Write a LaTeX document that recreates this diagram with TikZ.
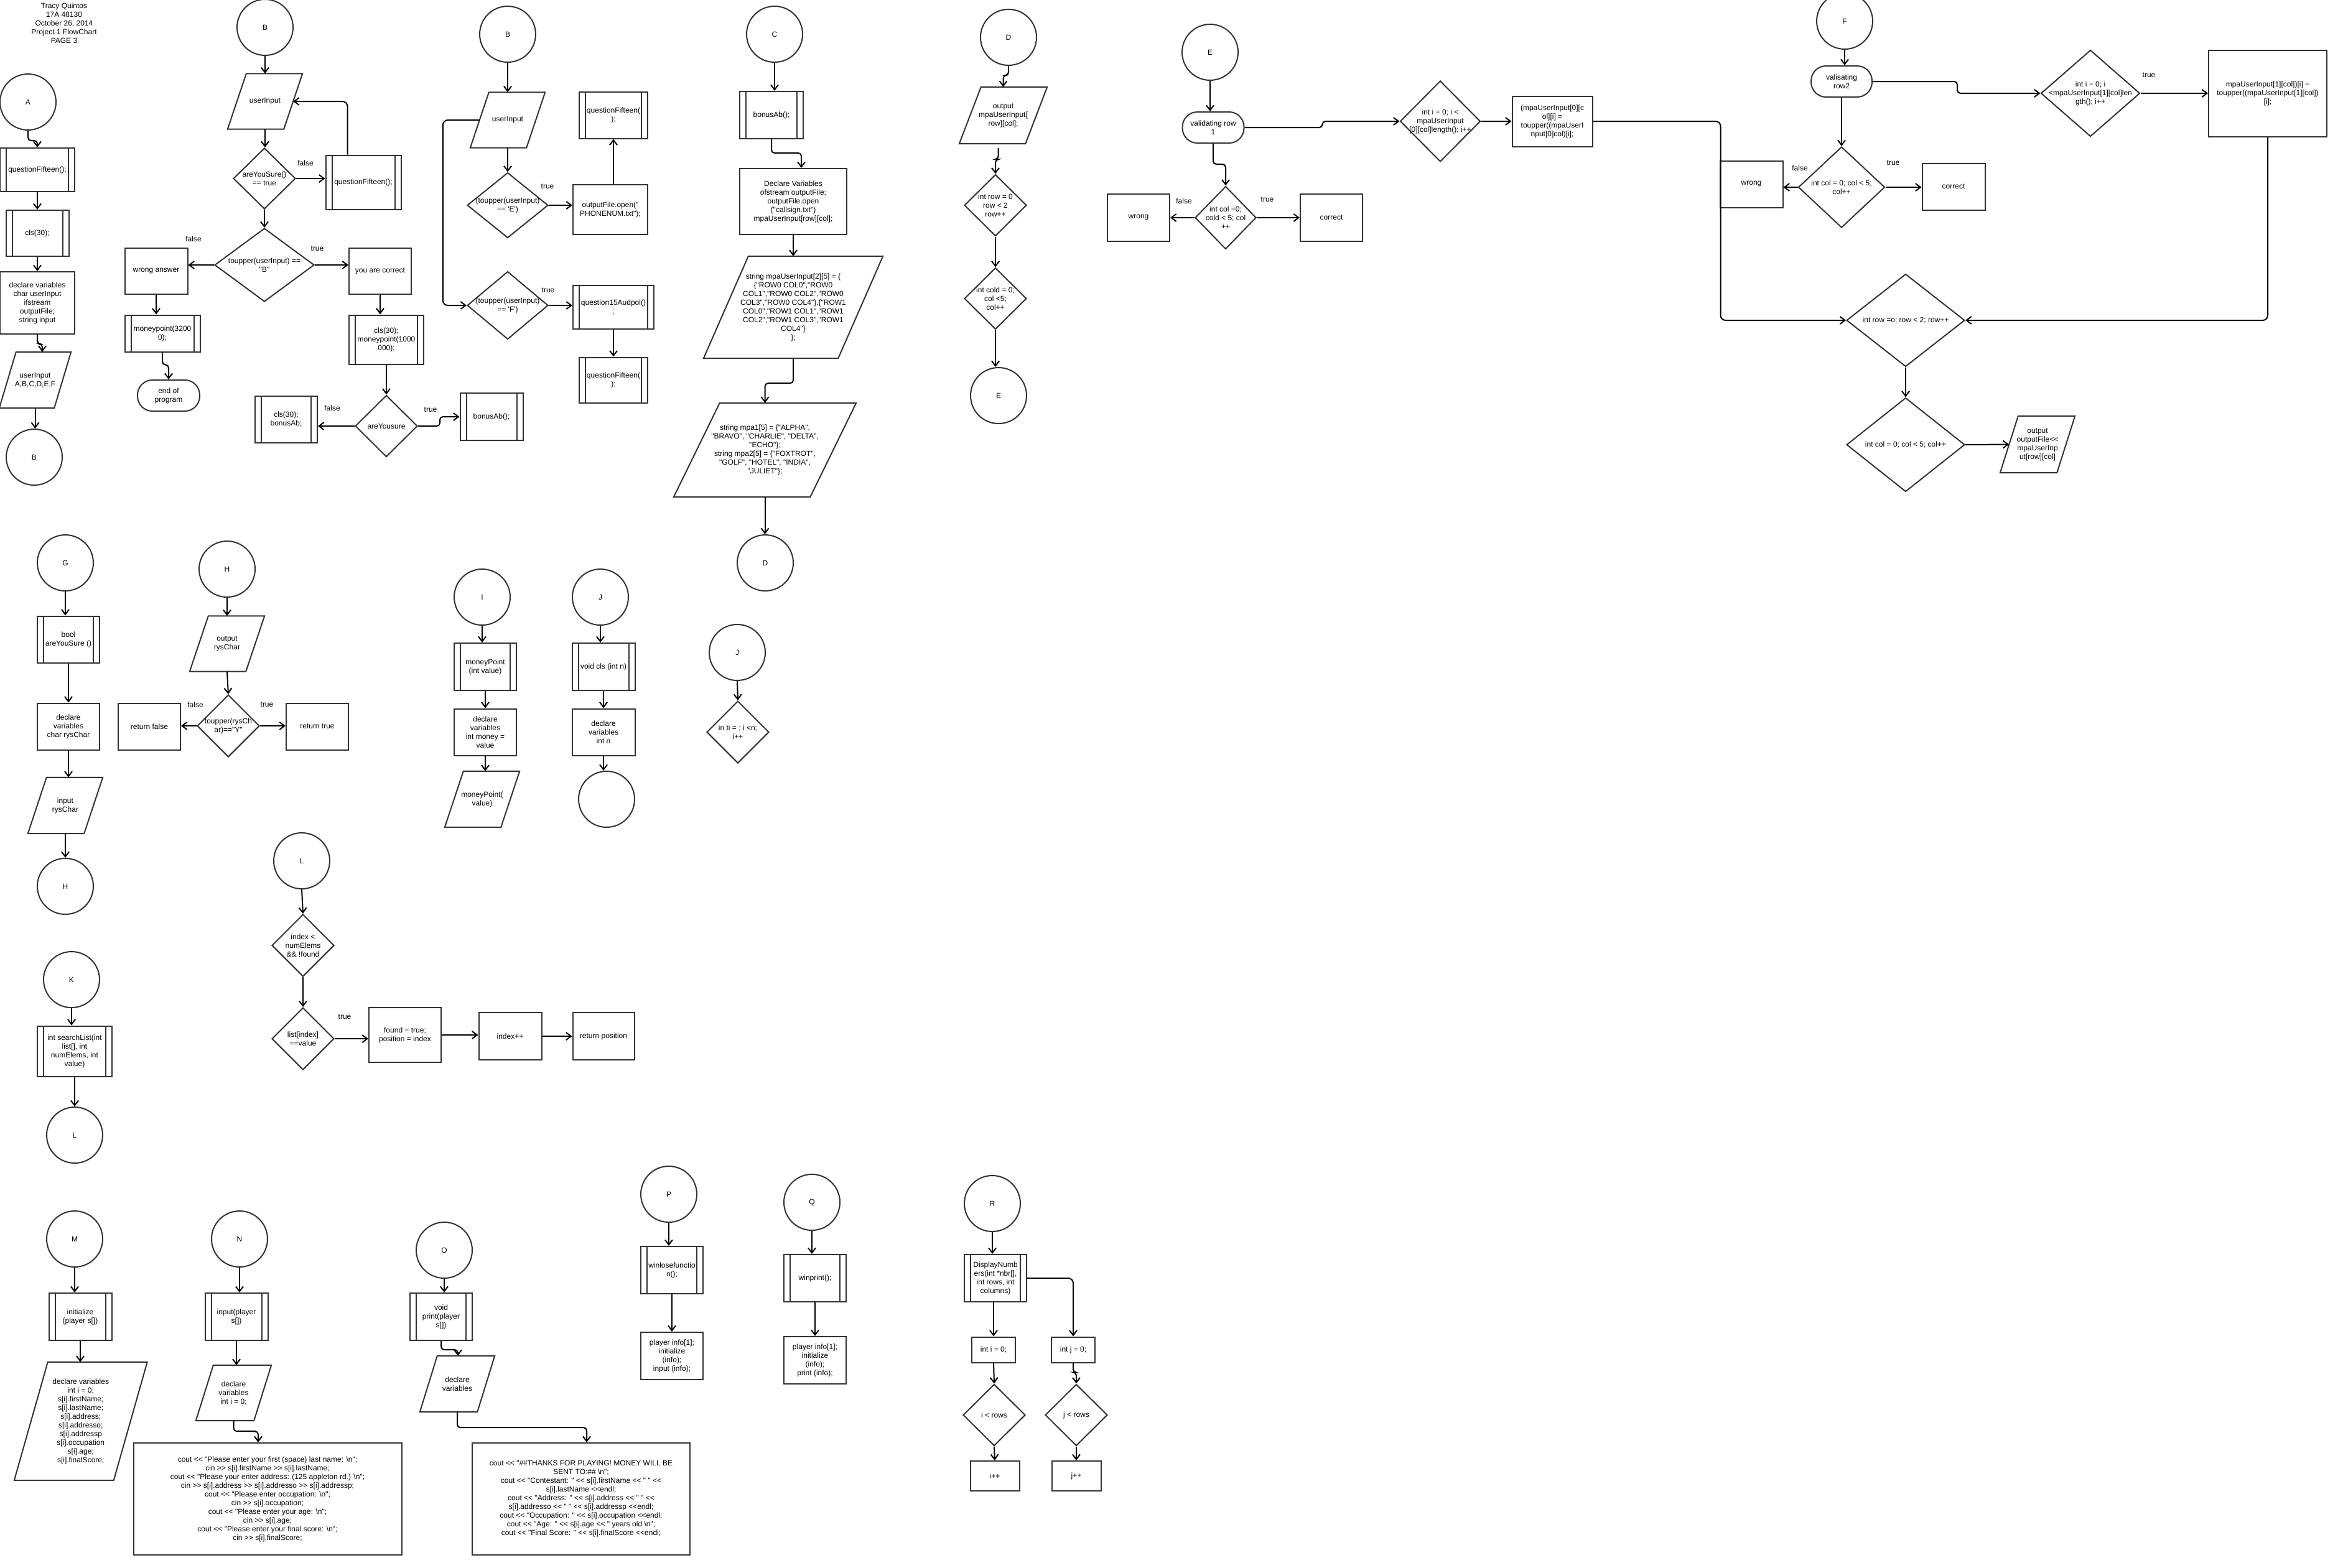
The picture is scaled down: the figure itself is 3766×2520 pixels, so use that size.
\documentclass[tikz,border=0pt]{standalone}
\usepackage{fontspec}
\newfontfamily\lib{Liberation Sans}
\usetikzlibrary{shapes.geometric,arrows.meta,calc}
\definecolor{lc}{HTML}{333333}
\newcommand\ft{\lib\fontsize{12}{14}\selectfont}
\tikzset{
  shp/.style={draw=lc, line width=2pt},
  txt/.style={font=\ft, align=center, inner sep=0pt, text=black},
  box/.style={shp, txt, rectangle},
  pp/.style={box, path picture={\draw[lc, line width=2pt]
     ([xshift=10pt]path picture bounding box.north west) -- ([xshift=10pt]path picture bounding box.south west)
     ([xshift=-10pt]path picture bounding box.north east) -- ([xshift=-10pt]path picture bounding box.south east);}},
  conn/.style={shp, txt, circle, minimum size=90pt},
  term/.style={shp, txt, rectangle, rounded corners=24pt},
  dia/.style={shp, diamond, inner sep=0pt},
  arr/.style={draw=black, line width=2pt, -{Straight Barb[length=8pt,width=12pt]}},
  jog/.style={arr, rounded corners=5pt},
  wh/.style 2 args={minimum width=#1pt, minimum height=#2pt},
}
% name, x, y, w, h, text
\newcommand\Dia[6]{\node[dia, wh={#4}{#5}] (#1) at (#2,#3) {};
  \node[txt] (#1t) at (#1.center) {#6};}
% name, x, y, w, h, half slant, text
\newcommand\Para[7]{\node[txt, wh={#4}{#5}] (#1) at (#2,#3) {#7};
  \draw[shp] ([xshift=#6pt]#1.north west) -- ([xshift=#6pt]#1.north east) -- ([xshift=-#6pt]#1.south east) -- ([xshift=-#6pt]#1.south west) -- cycle;}

\begin{document}
\begin{tikzpicture}[x=1pt,y=-1pt]
\useasboundingbox (0,0) rectangle (3766,2520);
\fill[white] (0,0) rectangle (3766,2520);

\node[txt] (title) at (103,37) {Tracy Quintos\\17A 48130\\October 26, 2014\\Project 1 FlowChart\\PAGE 3};

% ---------- A ----------
\node[conn] (cA) at (45,164) {A};
\node[pp, wh={120}{70}] (qf1) at (60,273) {questionFifteen();};
\node[pp, wh={101}{74}] (cls1) at (60,375) {cls(30);};
\node[box, wh={120}{100}] (dv1) at (60,487) {declare variables\\char userInput\\ifstream\\outputFile;\\string input};
\Para{ui1}{56.5}{611}{88}{90}{13.5}{userInput\\A,B,C,D,E,F}
\node[conn] (cB1) at (55,735) {B};
\draw[jog] (cA.south) -- ++(0,16) -| (qf1.north);
\draw[arr] (qf1.south) -- (qf1.south |- cls1.north);
\draw[arr] (cls1.south) -- (cls1.south |- dv1.north);
\draw[jog] (dv1.south) -- ++(0,15) -| ([xshift=11.5pt]ui1.north);
\draw[arr] (ui1.south) -- (ui1.south |- cB1.north);

% ---------- B (first) ----------
\node[conn] (cB2) at (426,44) {B};
\Para{ui2}{426}{163}{90}{89}{15}{userInput}
\Dia{dAys}{425}{287}{100}{98}{areYouSure()\\== true}
\node[txt] (lf1) at (491,262) {false};
\node[pp, wh={121}{87}] (qf2) at (584,293) {questionFifteen();};
\Dia{dTu}{425}{426}{160}{118}{toupper(userInput) ==\\"B"}
\node[txt] (lf2) at (311,384) {false};
\node[txt] (lt2) at (510,400) {true};
\node[box, wh={101}{74}] (wa) at (251,436) {wrong answer};
\node[box, wh={100}{74}] (yac) at (611,436) {you are correct};
\node[pp, wh={121}{59}] (mp1) at (261,536) {moneypoint(3200\\0);};
\node[term, wh={100}{50}] (eop) at (271,636) {end of\\program};
\node[pp, wh={120}{79}] (clsm) at (621,546) {cls(30);\\moneypoint(1000\\000);};
\Dia{dAys2}{621}{685}{100}{99}{areYousure}
\node[pp, wh={100}{75}] (clsb) at (460,674) {cls(30);\\bonusAb;};
\node[txt] (lf3) at (534,656) {false};
\node[txt] (lt3) at (692,659) {true};
\node[pp, wh={101}{76}] (bab) at (790,670) {bonusAb();};
\draw[arr] (cB2.south) -- (cB2.south |- ui2.north);
\draw[arr] (ui2.south) -- (ui2.south |- dAys.north);
\draw[arr] (dAys.east) -- (dAys.east -| qf2.west);
\draw[arr, rounded corners=8pt] ([xshift=36pt]qf2.north west) |- (ui2.east);
\draw[arr] (dAys.south) -- (dTu.north);
\draw[arr] (dTu.west) -- (dTu.west -| wa.east);
\draw[arr] (dTu.east) -- (dTu.east -| yac.west);
\draw[arr] (wa.south) -- (wa.south |- mp1.north);
\draw[jog] (mp1.south) -- ++(0,20) -| (eop.north);
\draw[arr] (yac.south) -- (yac.south |- clsm.north);
\draw[arr] (clsm.south) -- (clsm.south |- dAys2.north);
\draw[arr] (dAys2.west) -- (dAys2.west -| clsb.east);
\draw[jog] (dAys2.east) -- ++(35,0) |- (bab.west);

% ---------- B (second) ----------
\node[conn] (cB3) at (816,55) {B};
\Para{ui3}{816}{193}{90}{89}{15}{userInput}
\Dia{dE}{816}{330}{130}{105}{(toupper(userInput)\\== \textquotesingle E\textquotesingle)}
\node[txt] (lt4) at (880,300) {true};
\node[box, wh={120}{80}] (ofo) at (981,337) {outputFile.open("\\PHONENUM.txt");};
\node[pp, wh={110}{75}] (qf3) at (986,185) {questionFifteen(\\);};
\Dia{dF}{816}{491}{130}{109}{(toupper(userInput)\\== \textquotesingle F\textquotesingle)}
\node[txt] (lt5) at (881,467) {true};
\node[pp, wh={130}{70}] (q15) at (986,494) {question15Audpol()\\;};
\node[pp, wh={110}{73}] (qf4) at (986,611) {questionFifteen(\\);};
\draw[arr] (cB3.south) -- (ui3.north);
\draw[arr] (ui3.south) -- (dE.north);
\draw[arr] (dE.east) -- (dE.east -| ofo.west);
\draw[arr] (ofo.north -| qf3.south) -- (qf3.south);
\draw[arr] (dF.east) -- (dF.east -| q15.west);
\draw[arr] (q15.south) -- (q15.south |- qf4.north);
\draw[arr, rounded corners=8pt] (ui3.west) -- ++(-59,0) |- (dF.west);

% ---------- C ----------
\node[conn] (cC) at (1245,55) {C};
\node[pp, wh={102}{76}] (bab2) at (1240,185) {bonusAb();};
\node[box, wh={172}{106}] (dvC) at (1275,324) {Declare Variables\\ofstream outputFile;\\outputFile.open\\("callsign.txt")\\mpaUserInput[row][col];};
\Para{mpaU}{1275}{494}{216}{164}{36}{string mpaUserInput[2][5] = \{\\\{"ROW0 COL0","ROW0\\COL1","ROW0 COL2","ROW0\\COL3","ROW0 COL4"\},\{"ROW1\\COL0","ROW1 COL1","ROW1\\COL2","ROW1 COL3","ROW1\\COL4"\}\\\};}
\Para{mpaA}{1229.5}{723.5}{219}{151}{37}{string mpa1[5] = \{"ALPHA",\\"BRAVO", "CHARLIE", "DELTA",\\"ECHO"\};\\string mpa2[5] = \{"FOXTROT",\\"GOLF", "HOTEL", "INDIA",\\"JULIET"\};}
\node[conn] (cD1) at (1230,905) {D};
\draw[arr] (cC.south) -- (cC.south |- bab2.north);
\draw[jog] (bab2.south) -- ++(0,22) -| ([xshift=13pt]dvC.north);
\draw[arr] (dvC.south) -- (mpaU.north);
\draw[jog] (mpaU.south) -- ++(0,40) -| (mpaA.north);
\draw[arr] (mpaA.south) -- (mpaA.south |- cD1.north);

% ---------- D ----------
\node[conn] (cD2) at (1621,60) {D};
\Para{oMp}{1612.5}{185.5}{106}{91}{17.5}{output\\mpaUserInput[\\row][col];}
\Dia{dR}{1600}{330}{100}{99}{int row = 0\\row < 2\\row++}
\Dia{dC}{1600}{480}{100}{99}{int cold = 0;\\col <5;\\col++}
\node[conn] (cE1) at (1605,636) {E};
\draw[jog] (cD2.south) -- ++(0,15) -| (oMp.north);
\draw[jog] ([xshift=-8pt,yshift=-7pt]oMp.south) -- ++(0,18) -| (dR.north);
\draw[arr] (dR.south) -- (dC.north);
\draw[arr] (dC.south) -- (dC.south |- cE1.north);

% ---------- E ----------
\node[conn] (cE2) at (1945,84) {E};
\node[term, wh={99}{50}] (vr1) at (1950,205) {validating row\\1};
\Dia{dI1}{2315}{195}{129}{130}{int i = 0; i <\\mpaUserInput\\{}[0][col]length(); i++}
\node[box, wh={129}{81}] (bx1) at (2495,195) {(mpaUserInput[0][c\\ol][i] =\\toupper((mpaUserI\\nput[0]col)[i];};
\Dia{dC1}{1970}{350}{98}{101}{int col =0;\\cold < 5; col\\++}
\node[txt] (lf6) at (1903,323) {false};
\node[txt] (lt6) at (2037,321) {true};
\node[box, wh={100}{76}] (wr1) at (1830,350) {wrong};
\node[box, wh={100}{76}] (co1) at (2140,350) {correct};
\draw[arr] (cE2.south) -- (cE2.south |- vr1.north);
\draw[jog] (vr1.east) -- ++(125,0) |- (dI1.west);
\draw[arr] (dI1.east) -- (bx1.west);
\draw[jog] (vr1.south) -- ++(0,33) -| (dC1.north);
\draw[arr] (dC1.west) -- (wr1.east);
\draw[arr] (dC1.east) -- (co1.west);

% ---------- F ----------
\node[conn] (cF) at (2965,34) {F};
\node[term, wh={98}{50}] (vr2) at (2960,131) {valisating\\row2};
\Dia{dI2}{3360}{150}{159}{139}{int i = 0; i\\<mpaUserInput[1][col]len\\gth(); i++}
\node[txt] (lt7) at (3454,121) {true};
\node[box, wh={190}{139}] (bx2) at (3645,150) {mpaUserInput[1][col])[i] =\\toupper((mpaUserInput[1][col])\\{}[i];};
\Dia{dC2}{2960}{301}{139}{130}{int col = 0; col < 5;\\col++}
\node[txt] (lf8) at (2893,270) {false};
\node[txt] (lt8) at (3043,262) {true};
\node[box, wh={101}{75}] (wr2) at (2815,296) {wrong};
\node[box, wh={101}{75}] (co2) at (3140,300) {correct};
\Dia{dRR}{3063}{515}{190}{149}{int row =o; row < 2; row++}
\Dia{dCC}{3063}{715}{190}{151}{int col = 0; col < 5; col++}
\Para{oOF}{3275}{714.5}{91}{91}{14.5}{output\\outputFile<<\\mpaUserInp\\ut[row][col]}
\draw[arr] (cF.south) -- (cF.south |- vr2.north);
\draw[jog] (vr2.east) -- ++(136,0) |- (dI2.west);
\draw[arr] (dI2.east) -- (bx2.west);
\draw[arr] (vr2.south) -- (vr2.south |- dC2.north);
\draw[arr] (dC2.west) -- (dC2.west -| wr2.east);
\draw[arr] (dC2.east) -- (dC2.east -| co2.west);
\draw[arr, rounded corners=8pt] (bx2.south) |- (dRR.east);
\draw[arr, rounded corners=8pt] (bx1.east) -- ++(205,0) |- (dRR.west);
\draw[arr] (dRR.south) -- (dCC.north);
\draw[arr] (dCC.east) -- (oOF.west);

% ---------- G ----------
\node[conn] (cG) at (105,905) {G};
\node[pp, wh={100}{75}] (bay) at (110,1028) {bool\\areYouSure ()};
\node[box, wh={100}{75}] (dvG) at (110,1168) {declare\\variables\\char rysChar};
\Para{iR}{105}{1295}{90}{90}{15}{input\\rysChar}
\node[conn] (cH1) at (105,1425) {H};
\draw[arr] (cG.south) -- (cG.south |- bay.north);
\draw[arr] (bay.south) -- (dvG.north);
\draw[arr] (dvG.south) -- (dvG.south |- iR.north);
\draw[arr] (iR.south) -- (iR.south |- cH1.north);

% ---------- H ----------
\node[conn] (cH2) at (365,915) {H};
\Para{oR}{365}{1035}{90}{89}{15}{output\\rysChar}
\Dia{dY}{367}{1167}{100}{100}{toupper(rysCh\\ar)=="Y"}
\node[txt] (lf9) at (314,1133) {false};
\node[txt] (lt9) at (429,1133) {true};
\node[box, wh={100}{75}] (rf) at (240,1168) {return false};
\node[box, wh={100}{75}] (rt) at (510,1168) {return true};
\draw[arr] (cH2.south) -- (cH2.south |- oR.north);
\draw[arr] (oR.south) -- (dY.north);
\draw[arr] (dY.west) -- (dY.west -| rf.east);
\draw[arr] (dY.east) -- (dY.east -| rt.west);

% ---------- I ----------
\node[conn] (cI) at (775,960) {I};
\node[pp, wh={100}{76}] (mpI) at (780,1072) {moneyPoint\\(int value)};
\node[box, wh={100}{75}] (dvI) at (780,1177) {declare\\variables\\int money =\\value};
\Para{mpP}{775}{1285}{90}{90}{15}{moneyPoint(\\value)}
\draw[arr] (cI.south) -- (cI.south |- mpI.north);
\draw[arr] (mpI.south) -- (dvI.north);
\draw[arr] (dvI.south) -- (dvI.south |- mpP.north);

% ---------- J ----------
\node[conn] (cJ1) at (965,960) {J};
\node[pp, wh={101}{76}] (vc) at (970,1072) {void cls (int n)};
\node[box, wh={101}{75}] (dvJ) at (970,1177) {declare\\variables\\int n};
\node[conn] (cEm) at (975,1285) {};
\draw[arr] (cJ1.south) -- (cJ1.south |- vc.north);
\draw[arr] (vc.south) -- (dvJ.north);
\draw[arr] (dvJ.south) -- (dvJ.south |- cEm.north);

\node[conn] (cJ2) at (1185,1049) {J};
\Dia{dN}{1186}{1177}{100}{100}{in ti = ; i <n;\\i++}
\draw[arr] (cJ2.south) -- (dN.north);

% ---------- K / L ----------
\node[conn] (cK) at (115,1575) {K};
\node[pp, wh={120}{81}] (sl) at (120,1690) {int searchList(int\\list[], int\\numElems, int\\value)};
\node[conn] (cL1) at (120,1825) {L};
\draw[arr] (cK.south) -- (cK.south |- sl.north);
\draw[arr] (sl.south) -- (sl.south |- cL1.north);

\node[conn] (cL2) at (485,1384) {L};
\Dia{dIx}{487}{1520}{100}{100}{index <\\numElems\\\&\& !found}
\Dia{dLv}{487}{1670}{100}{100}{list[index]\\==value}
\node[txt] (lt10) at (554,1635) {true};
\node[box, wh={116}{88}] (ft) at (651,1664) {found = true;\\position = index};
\node[box, wh={101}{76}] (ipp) at (820,1666) {index++};
\node[box, wh={99}{76}] (rp) at (970,1666) {return position};
\draw[arr] (cL2.south) -- (dIx.north);
\draw[arr] (dIx.south) -- (dLv.north);
\draw[arr] (dLv.east) -- (dLv.east -| ft.west);
\draw[arr] (ft.east) -- (ft.east -| ipp.west);
\draw[arr] (ipp.east) -- (rp.west);

% ---------- M ----------
\node[conn] (cM) at (120,1992) {M};
\node[pp, wh={101}{76}] (ini) at (129,2117) {initialize\\(player s[])};
\Para{dvM}{129.75}{2285}{159.5}{190}{27}{declare variables\\int i = 0;\\s[i].firstName;\\s[i].lastName;\\s[i].address;\\s[i].addresso;\\s[i].addressp\\s[i].occupation\\s[i].age;\\s[i].finalScore;}
\draw[arr] (cM.south) -- (cM.south |- ini.north);
\draw[arr] (ini.south) -- (ini.south |- dvM.north);

% ---------- N ----------
\node[conn] (cN) at (385,1992) {N};
\node[pp, wh={101}{76}] (inp) at (380,2117) {input(player\\s[])};
\Para{dvN}{375.5}{2239.5}{93}{89}{14}{declare\\variables\\int i = 0;}
\node[box, wh={431}{180}] (coutN) at (430,2410) {cout << "Please enter your first (space) last name: \textbackslash n";\\cin >> s[i].firstName >> s[i].lastName;\\cout << "Please your enter address: (125 appleton rd.) \textbackslash n";\\cin >> s[i].address >> s[i].addresso >> s[i].addressp;\\cout << "Please enter occupation: \textbackslash n";\\cin >> s[i].occupation;\\cout << "Please enter your age: \textbackslash n";\\cin >> s[i].age;\\cout << "Please enter your final score: \textbackslash n";\\cin >> s[i].finalScore;};
\draw[arr] (cN.south) -- (cN.south |- inp.north);
\draw[arr] (inp.south) -- (inp.south |- dvN.north);
\draw[jog] (dvN.south) -- ++(0,17) -| ([xshift=-15pt]coutN.north);

% ---------- O ----------
\node[conn] (cO) at (714,2010) {O};
\node[pp, wh={100}{76}] (vp) at (709,2117) {void\\print(player\\s[])};
\Para{dvO}{735}{2225}{92}{90}{14}{declare\\variables}
\node[box, wh={350}{180}] (coutO) at (934,2410) {cout << "\#\#THANKS FOR PLAYING! MONEY WILL BE\\SENT TO:\#\# \textbackslash n";\\cout << "Contestant: " << s[i].firstName << " " <<\\s[i].lastName <<endl;\\cout << "Address: " << s[i].address << " " <<\\s[i].addresso << " " << s[i].addressp <<endl;\\cout << "Occupation: " << s[i].occupation <<endl;\\cout << "Age: " << s[i].age << " years old \textbackslash n";\\cout << "Final Score: " << s[i].finalScore <<endl;};
\draw[arr] (cO.south) -- (cO.south |- vp.north);
\draw[jog] (vp.south) -- ++(0,14) -| ([xshift=1pt]dvO.north);
\draw[jog] (dvO.south) -- ++(0,25) -| ([xshift=9pt]coutO.north);

% ---------- P ----------
\node[conn] (cP) at (1075,1920) {P};
\node[pp, wh={100}{76}] (wlf) at (1080,2042) {winlosefunctio\\n();};
\node[box, wh={100}{76}] (piP) at (1080,2180) {player info[1];\\initialize\\(info);\\input (info);};
\draw[arr] (cP.south) -- (cP.south |- wlf.north);
\draw[arr] (wlf.south) -- (piP.north);

% ---------- Q ----------
\node[conn] (cQ) at (1305,1933) {Q};
\node[pp, wh={100}{76}] (wp) at (1310,2055) {winprint();};
\node[box, wh={100}{76}] (piQ) at (1310,2187) {player info[1];\\initialize\\(info);\\print (info);};
\draw[arr] (cQ.south) -- (cQ.south |- wp.north);
\draw[arr] (wp.south) -- (piQ.north);

% ---------- R ----------
\node[conn] (cR) at (1595,1935) {R};
\node[pp, wh={100}{76}] (dn) at (1600,2055) {DisplayNumb\\ers(int *nbr[],\\int rows, int\\columns)};
\node[box, wh={70}{41}] (ii) at (1597,2170) {int i = 0;};
\node[box, wh={70}{41}] (ij) at (1725,2170) {int j = 0;};
\Dia{dIr}{1598}{2275}{100}{99}{i < rows}
\Dia{dJr}{1730}{2275}{100}{99}{j < rows}
\node[box, wh={79}{48}] (ipl) at (1599,2373) {i++};
\node[box, wh={79}{48}] (jpl) at (1730,2373) {j++};
\draw[arr] (cR.south) -- (cR.south |- dn.north);
\draw[arr] (dn.south -| ii.north) -- (ii.north);
\draw[arr, rounded corners=8pt] (dn.east) -| (ij.north);
\draw[arr] (ii.south) -- (dIr.north);
\draw[jog] (ij.south) -- ++(0,15) -| (dJr.north);
\draw[arr] (dIr.south) -- (ipl.north);
\draw[arr] (dJr.south) -- (dJr.south |- jpl.north);
\end{tikzpicture}
\end{document}
